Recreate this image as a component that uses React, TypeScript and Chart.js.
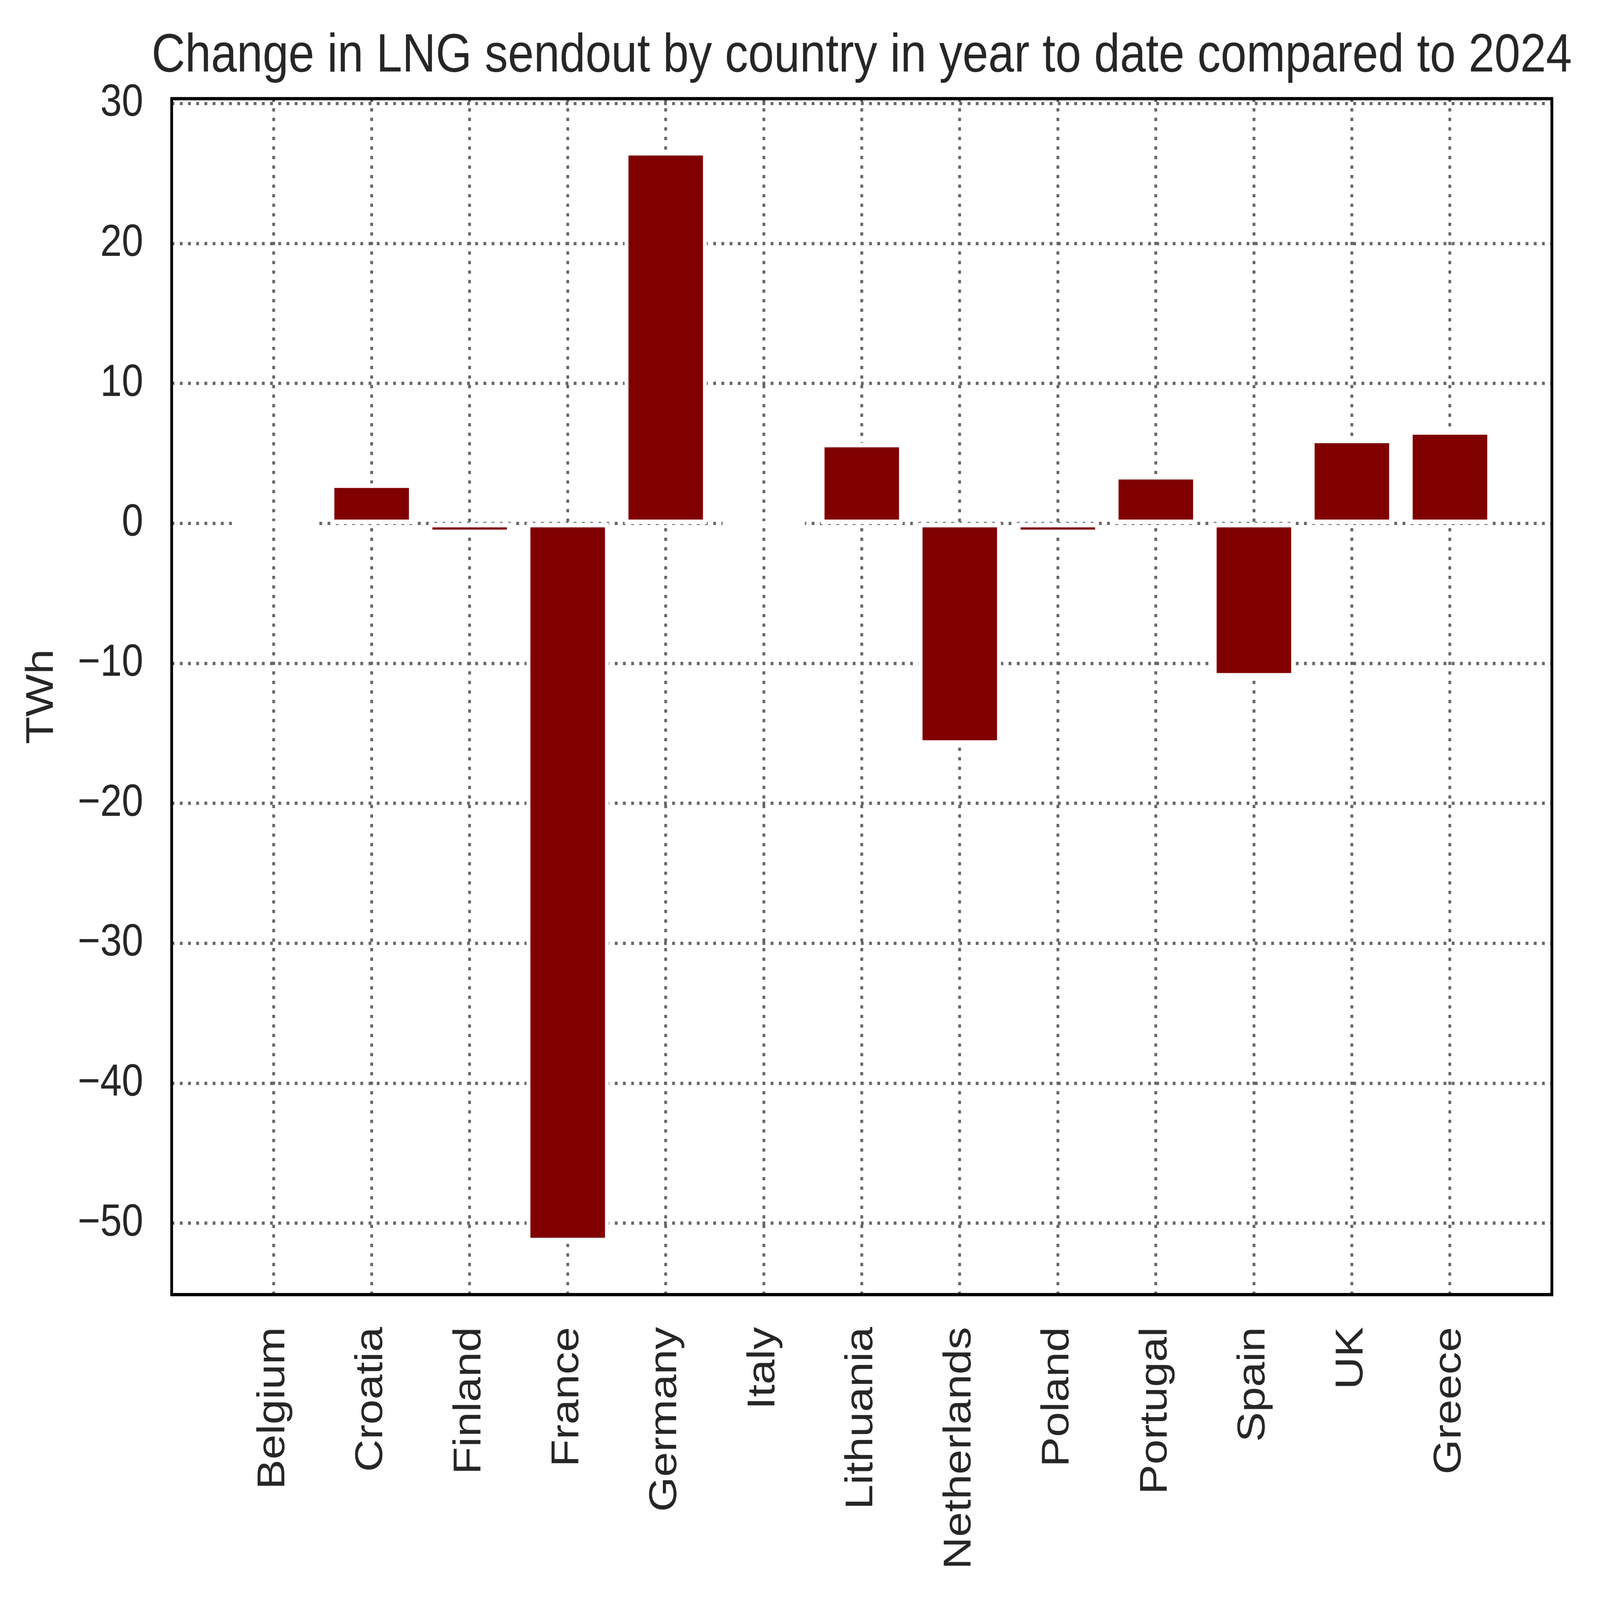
import React, { useEffect, useRef } from 'react';
import { Chart, registerables } from 'chart.js';

// Register Chart.js components
Chart.register(...registerables);

const countries = [
  'Belgium', 'Croatia', 'Finland', 'France', 'Germany', 'Italy', 'Lithuania',
  'Netherlands', 'Poland', 'Portugal', 'Spain', 'UK', 'Greece',
];
const changeTWh = [0, 2.7, -0.6, -51.2, 26.45, 0, 5.6, -15.65, -0.6, 3.3, -10.85, 5.9, 6.5];
const yTicks = [-50, -40, -30, -20, -10, 0, 10, 20, 30];
const TITLE = 'Change in LNG sendout by country in year to date compared to 2024';

// drawing size, same as the reference picture; the canvas is stretched to the page
const W = 5752;
const H = 4946;
const TEXT = '#262626';
const GRID = '#666666';
const FONT = "'Liberation Sans', Arial, sans-serif";

// white bar outlines centred on the bar edge, like matplotlib's edgecolor
const barEdges = {
  id: 'barEdges',
  afterDatasetsDraw(chart: any) {
    const ctx = chart.ctx;
    const half = 7;
    ctx.save();
    ctx.strokeStyle = '#ffffff';
    ctx.fillStyle = '#ffffff';
    ctx.lineWidth = half * 2;
    ctx.lineJoin = 'miter';
    chart.getDatasetMeta(0).data.forEach((el: any) => {
      const { x, y, base, width } = el.getProps(['x', 'y', 'base', 'width'], true);
      const left = x - width / 2;
      const h = Math.abs(base - y);
      if (h < 1) {
        ctx.fillRect(left - half, base - half, width + half * 2, half * 2);
      } else {
        ctx.strokeRect(left, Math.min(y, base), width, h);
      }
    });
    ctx.restore();
  },
};

// black box round the plot area, title centred over it
const frame = {
  id: 'frame',
  afterDraw(chart: any) {
    const { ctx, chartArea: a } = chart;
    ctx.save();
    ctx.strokeStyle = '#000000';
    ctx.lineWidth = 10;
    ctx.strokeRect(a.left, a.top, a.right - a.left, a.bottom - a.top);
    ctx.fillStyle = TEXT;
    ctx.font = `167px ${FONT}`;
    ctx.textAlign = 'center';
    ctx.textBaseline = 'alphabetic';
    ctx.fillText(TITLE, (a.left + a.right) / 2, a.top - 84);
    ctx.restore();
  },
};

export default function App() {
  const chartRef = useRef<HTMLCanvasElement | null>(null);
  const chartInstanceRef = useRef<Chart | null>(null);

  useEffect(() => {
    if (!chartRef.current) return;
    if (chartInstanceRef.current) {
      chartInstanceRef.current.destroy();
    }
    const ctx = chartRef.current.getContext('2d');
    if (!ctx) return;

    const tickFont = { family: FONT, size: 139, weight: 'normal' as const };
    const gridOpts = { color: GRID, lineWidth: 10, drawTicks: false, offset: false };
    const borderOpts = { display: false, dash: [10, 19.5] };

    chartInstanceRef.current = new Chart(ctx, {
      type: 'bar',
      data: {
        datasets: [
          {
            label: 'Change in LNG sendout',
            data: countries.map((_, i) => ({ x: i, y: changeTWh[i] })),
            backgroundColor: '#800000',
            borderWidth: 0,
            inflateAmount: 0,
            barPercentage: 0.8,
            categoryPercentage: 1.0,
          },
        ],
      },
      options: {
        animation: false,
        responsive: false,
        devicePixelRatio: 1,
        layout: { padding: { left: 0, right: W - 5579, top: 305, bottom: 0 } },
        plugins: {
          legend: { display: false },
          tooltip: { enabled: false },
          title: { display: false },
        },
        scales: {
          x: {
            type: 'linear',
            min: -1.04,
            max: 13.04,
            offset: false,
            grid: gridOpts,
            border: borderOpts,
            afterBuildTicks: (s: any) => {
              s.ticks = countries.map((_, i) => ({ value: i }));
            },
            afterFit: (s: any) => {
              s.height = H - 4002;
            },
            ticks: {
              autoSkip: false,
              minRotation: 90,
              maxRotation: 90,
              padding: 100,
              color: TEXT,
              font: tickFont,
              callback: (v: any) => countries[v] ?? '',
            },
          },
          y: {
            type: 'linear',
            min: -55.1,
            max: 30.35,
            grid: gridOpts,
            border: borderOpts,
            afterBuildTicks: (s: any) => {
              s.ticks = yTicks.map((v) => ({ value: v }));
            },
            afterFit: (s: any) => {
              s.width = 617;
            },
            ticks: {
              padding: 102,
              color: TEXT,
              font: tickFont,
              callback: (v: any) => String(v).replace('-', '\u2212'),
            },
            title: {
              display: true,
              text: 'TWh',
              color: TEXT,
              font: { family: FONT, size: 139, weight: 'normal', lineHeight: 1.2 },
              padding: { top: 68, bottom: 0 },
            },
          },
        },
      } as any,
      plugins: [barEdges, frame],
    });

    return () => {
      if (chartInstanceRef.current) {
        chartInstanceRef.current.destroy();
        chartInstanceRef.current = null;
      }
    };
  }, []);

  return (
    <div style={{ position: 'fixed', left: 0, top: 0, width: '100vw', height: '100vh', background: '#ffffff' }}>
      <canvas
        ref={chartRef}
        width={W}
        height={H}
        style={{ display: 'block', width: '100vw', height: '100vh' }}
      />
    </div>
  );
}
